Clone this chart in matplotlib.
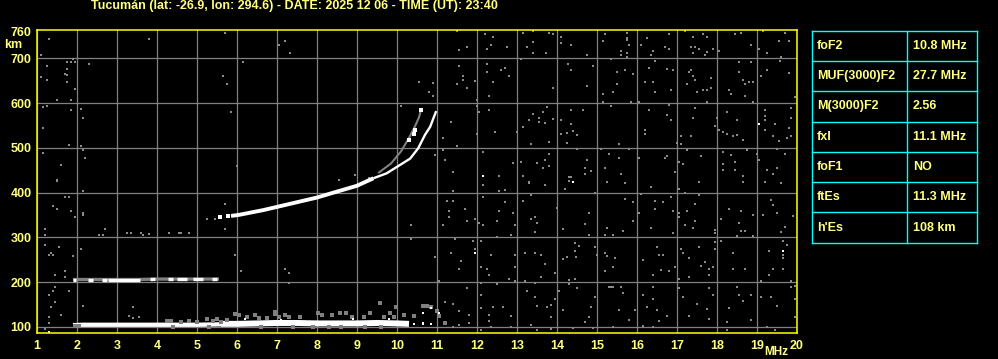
import numpy as np
import matplotlib.pyplot as plt

plt.rcParams['font.family'] = ['Liberation Sans', 'DejaVu Sans']

title = "Tucumán (lat: -26.9, lon: 294.6) - DATE: 2025 12 06 - TIME (UT): 23:40"

freq_ticks = list(range(1, 21))
km_ticks = [100, 200, 300, 400, 500, 600, 700, 760]
km_grid = [100, 200, 300, 400, 500, 600, 700]

# scaled parameters table
table_params = ['foF2', 'MUF(3000)F2', 'M(3000)F2', 'fxI', 'foF1', 'ftEs', "h'Es"]
table_values = ['10.8 MHz', '27.7 MHz', '2.56', '11.1 MHz', 'NO', '11.3 MHz', '108 km']

# sporadic E trace (MHz, km)
es_low_freq = [1.9, 2.15, 3.0, 4.0, 5.0, 5.6]
es_low_km = [104, 105, 105, 105, 105, 106]
es_high_freq = [5.6, 6.0, 6.5, 7.0, 7.5, 8.0, 8.5, 9.0, 9.5, 10.0, 10.3]
es_high_km = [107, 107, 108, 109, 109, 108, 108, 108, 109, 108, 107]
es_white_bits = [(10.43, 107), (10.65, 107), (10.84, 107), (10.64, 132), (10.84, 142),
                 (11.04, 132), (10.64, 109), (6.2, 117), (7.1, 116), (8.9, 117), (9.8, 118)]
es_spread = [(4.25, 114), (4.35, 114), (4.6, 112), (4.8, 114), (5.0, 112), (5.25, 117),
             (5.4, 114), (5.5, 117), (5.6, 112), (5.75, 116), (5.95, 129), (6.05, 127),
             (6.25, 123), (6.45, 127), (6.55, 119), (6.75, 119), (6.95, 134), (6.95, 128),
             (7.05, 123), (7.2, 127), (7.3, 123), (7.575, 123), (8.025, 132), (8.125, 127),
             (8.375, 127), (8.575, 132), (8.725, 132), (8.875, 123), (9.175, 123),
             (9.325, 132), (9.575, 154), (9.675, 123), (9.825, 132), (9.975, 145),
             (9.925, 123), (10.175, 127), (10.425, 125), (10.645, 147), (10.74, 147),
             (10.84, 145), (10.99, 136), (11.04, 125), (11.19, 109), (6.6, 101),
             (7.4, 100), (7.9, 101), (8.3, 100), (8.6, 101), (9.2, 100), (9.6, 101),
             (2.05, 103), (1.95, 103), (5.3, 101), (4.4, 101)]

# second hop E echo
hop2_freq = [1.9, 2.5, 3.0, 3.5, 4.0, 4.5, 5.0, 5.55]
hop2_km = [206, 206, 206, 206, 207, 207, 207, 207]
hop2_white_start = [1.91, 2.28, 2.62, 2.78, 3.83, 4.28, 4.49, 4.91, 5.37]
hop2_white_end = [1.975, 2.41, 2.74, 3.58, 3.95, 4.41, 4.74, 5.16, 5.49]

# F2 trace
f_low_freq = [5.85, 6.03, 6.66, 7.33, 8.0, 8.49, 8.99, 9.41]
f_low_km = [348, 350, 361, 375, 389, 402, 415, 432]
f_up_freq = [9.41, 9.74, 10.08, 10.33, 10.53, 10.7, 10.83, 10.91, 10.98]
f_up_km = [432, 443, 462, 476, 499, 529, 547, 566, 582]
f_start_bits = [(5.575, 345), (5.78, 348)]
f_branch_freq = [9.55, 9.85, 10.1, 10.3, 10.45, 10.55, 10.6]
f_branch_km = [445, 465, 492, 522, 548, 568, 585]
f_branch_white = [(10.31, 518), (10.45, 540), (10.59, 585), (10.42, 530)]

white_specks = [(12.14, 438), (19.05, 553), (14.40, 424), (19.65, 270), (11.94, 266),
                (1.30, 89)]

noise_echoes = [
    (1.30, 743), (1.10, 708), (3.80, 743), (5.70, 756), (7.05, 730), (7.20, 739),
    (7.33, 711), (1.25, 683), (1.75, 692), (1.85, 692), (1.95, 692), (1.90, 698),
    (1.75, 677), (1.70, 665), (1.75, 662), (1.10, 657), (1.25, 652), (1.75, 648),
    (1.95, 632), (2.30, 688), (6.15, 692), (5.65, 661), (5.75, 643), (1.50, 607),
    (1.85, 607), (1.15, 590), (1.25, 594), (1.85, 585), (2.10, 587), (2.15, 567),
    (5.85, 581), (1.15, 545), (1.80, 507), (2.10, 505), (2.15, 496), (2.20, 478),
    (1.15, 489), (1.60, 462), (1.50, 429), (6.00, 460),
    (11.49, 761), (11.54, 719), (11.74, 725), (12.19, 753), (12.39, 748), (12.34, 730),
    (12.24, 721), (12.74, 724), (13.14, 757), (13.39, 761), (13.39, 736), (13.24, 725),
    (13.39, 712), (13.09, 698), (11.54, 683), (11.64, 660), (11.64, 651), (11.49, 642),
    (11.74, 633), (11.94, 650), (12.24, 687), (12.24, 669), (12.59, 674), (12.69, 678),
    (12.79, 660), (12.39, 647), (12.29, 616), (10.54, 647), (10.89, 645), (10.79, 625),
    (10.89, 616), (11.99, 607), (11.99, 593), (12.04, 580), (12.29, 584), (10.09, 593),
    (11.34, 558), (11.14, 522), (11.99, 531), (12.44, 535), (12.99, 535), (13.14, 546),
    (13.29, 562), (13.39, 575), (13.54, 566), (13.54, 558), (13.64, 580), (13.34, 508),
    (11.49, 505), (11.14, 496), (10.94, 485), (11.19, 473), (12.14, 491), (12.54, 438),
    (12.89, 465), (13.09, 469), (13.49, 467), (13.64, 456), (13.14, 438), (13.29, 424),
    (11.39, 447), (8.54, 429),
    (13.80, 757), (13.90, 753), (14.10, 748), (14.10, 735), (14.35, 730), (13.72, 712),
    (14.75, 708), (15.20, 753), (15.15, 739), (15.75, 757), (15.75, 741), (15.75, 745),
    (15.80, 730), (15.60, 717), (15.75, 712), (15.60, 708), (15.75, 703), (16.25, 746),
    (16.10, 730), (16.40, 717), (16.35, 708), (16.70, 726), (16.80, 753), (16.80, 721),
    (17.20, 761), (17.40, 748), (17.65, 753), (17.75, 748), (17.35, 726), (17.45, 726),
    (17.55, 721), (17.40, 712), (17.75, 714), (17.70, 708), (17.90, 721), (18.05, 717),
    (18.45, 753), (18.60, 757), (18.85, 730), (19.05, 721), (19.15, 761), (19.25, 712),
    (19.55, 739), (19.70, 757), (19.80, 739), (19.60, 702), (19.58, 693), (14.27, 686),
    (14.35, 674), (14.90, 683), (14.75, 639), (13.90, 633), (15.35, 699), (15.50, 669),
    (15.70, 674), (15.90, 665), (15.50, 642), (15.40, 625), (15.15, 620), (15.15, 602),
    (15.85, 602), (16.45, 694), (16.30, 678), (16.75, 677), (16.90, 674), (16.20, 647),
    (16.40, 647), (16.45, 625), (16.85, 629), (16.05, 602), (17.30, 669), (17.35, 674),
    (17.40, 660), (17.45, 651), (17.25, 642), (17.85, 656), (17.85, 633), (17.65, 629),
    (17.75, 629), (17.50, 625), (17.75, 602), (18.55, 691), (18.85, 691), (18.55, 669),
    (18.65, 651), (18.70, 642), (18.80, 647), (18.90, 647), (18.30, 629), (18.35, 620),
    (18.70, 616), (18.90, 602), (19.10, 660), (19.25, 674), (19.80, 668), (19.95, 614),
    (13.75, 592), (13.90, 565), (13.70, 556), (14.10, 562), (14.35, 584), (14.65, 584),
    (14.35, 553), (14.25, 534), (14.40, 537), (14.50, 529), (14.10, 531), (14.25, 511),
    (13.80, 513), (15.35, 593), (15.55, 508), (16.30, 584), (16.80, 595), (16.75, 574),
    (16.85, 562), (16.20, 540), (16.20, 531), (16.99, 511), (17.10, 508), (17.10, 526),
    (17.35, 526), (17.40, 567), (17.45, 589), (17.95, 549), (18.00, 567), (18.05, 540),
    (18.15, 535), (18.25, 531), (18.40, 526), (18.50, 529), (18.25, 580), (18.50, 562),
    (18.65, 517), (19.20, 584), (19.20, 571), (19.20, 562), (19.20, 540), (19.45, 553),
    (19.40, 526), (19.55, 516), (19.80, 544), (19.85, 566), (19.85, 589), (19.75, 522),
    (19.85, 526), (13.80, 486), (13.70, 473), (13.80, 459), (14.30, 434), (14.35, 434),
    (14.50, 498), (14.75, 473), (14.70, 455), (14.85, 449), (14.70, 441), (15.10, 498),
    (15.30, 486), (15.20, 455), (15.60, 441), (15.80, 498), (15.55, 477), (16.05, 477),
    (16.70, 477), (16.75, 482), (16.95, 446), (17.05, 468), (17.15, 464), (17.25, 495),
    (17.60, 482), (18.15, 491), (18.15, 464), (18.35, 485), (18.45, 468), (18.15, 450),
    (18.45, 450), (18.65, 437), (18.75, 495), (19.00, 486), (19.05, 473), (19.25, 450),
    (19.40, 441), (19.50, 455), (19.50, 498), (19.70, 486),
    (13.70, 418), (14.20, 409), (14.30, 425), (15.70, 422), (15.25, 424), (16.35, 413),
    (17.05, 409), (17.55, 424), (18.65, 424), (19.20, 424), (19.60, 422), (14.95, 400),
    (14.00, 366), (14.80, 355), (14.70, 330), (14.15, 319), (14.80, 306), (15.20, 306),
    (15.40, 306), (15.25, 321), (15.65, 315), (15.90, 378), (15.70, 386), (15.90, 337),
    (16.10, 397), (16.05, 355), (16.45, 382), (16.65, 378), (16.85, 391), (16.90, 360),
    (16.45, 364), (16.35, 321), (16.90, 310), (17.05, 355), (17.05, 346), (17.20, 400),
    (17.25, 360), (17.20, 328), (17.45, 337), (17.45, 375), (17.55, 395), (17.40, 321),
    (17.95, 316), (17.95, 310), (18.10, 342), (18.30, 364), (18.60, 360), (18.55, 333),
    (18.60, 315), (18.70, 315), (18.50, 303), (18.90, 351), (18.90, 303), (19.15, 351),
    (19.35, 383), (19.40, 373), (19.50, 355), (19.70, 324), (19.60, 311), (19.90, 348),
    (14.45, 288), (14.55, 281), (14.45, 269), (14.25, 257), (14.15, 252), (14.48, 256),
    (13.95, 221), (14.30, 205), (14.45, 208), (14.30, 195), (14.50, 186), (14.05, 181),
    (13.70, 241), (14.95, 279), (15.20, 266), (15.25, 258), (15.45, 253), (15.40, 235),
    (15.20, 226), (15.00, 260), (15.35, 190), (15.60, 190), (15.65, 177), (16.15, 250),
    (16.50, 279), (16.65, 261), (16.55, 261), (16.60, 227), (16.80, 226), (16.95, 235),
    (16.40, 217), (17.05, 208), (17.10, 275), (17.15, 266), (17.30, 253), (17.30, 212),
    (17.55, 279), (17.70, 244), (17.60, 236), (17.80, 230), (17.90, 235), (17.80, 217),
    (17.95, 275), (17.95, 290), (18.10, 293), (18.40, 266), (18.40, 230), (18.70, 230),
    (19.30, 270), (19.40, 230), (19.65, 230), (19.65, 253), (19.65, 293), (19.75, 284),
    (19.30, 217), (19.10, 203), (19.65, 261), (19.85, 203), (13.75, 145), (13.85, 150),
    (13.85, 123), (13.95, 163), (14.15, 138), (14.85, 145), (14.80, 123), (14.70, 111),
    (14.95, 168), (15.30, 190), (15.40, 190), (15.55, 137), (15.40, 101), (15.80, 116),
    (15.95, 137), (16.15, 172), (16.25, 145), (16.40, 190), (16.40, 163), (16.50, 137),
    (16.55, 114), (16.40, 101), (16.75, 125), (16.15, 102), (17.05, 186), (17.15, 168),
    (17.30, 125), (17.50, 151), (17.75, 141), (17.80, 186), (17.90, 172), (17.80, 117),
    (18.25, 111), (18.30, 142), (18.50, 190), (18.55, 172), (18.65, 159), (18.85, 172),
    (18.85, 116), (19.10, 168), (19.35, 168), (19.50, 147), (19.85, 190), (19.95, 191),
    (19.95, 163), (19.95, 123), (19.45, 93), (19.25, 101), (18.25, 93), (14.40, 98),
    (13.85, 95), (14.90, 98),
    (12.14, 418), (12.69, 406), (13.29, 422), (13.34, 394), (11.39, 404), (12.14, 391),
    (12.54, 404), (13.14, 382), (11.24, 382), (11.39, 382), (12.69, 378), (11.69, 364),
    (11.29, 360), (11.29, 346), (11.74, 337), (11.94, 342), (12.04, 333), (12.14, 328),
    (11.14, 328), (12.54, 360), (12.49, 337), (12.89, 355), (12.94, 328), (13.44, 346),
    (13.49, 333), (13.34, 342), (13.44, 311), (10.34, 328), (10.34, 297), (11.44, 297),
    (11.89, 293), (12.09, 293), (12.49, 302), (12.84, 306), (11.94, 275), (10.94, 257),
    (11.34, 266), (11.59, 248), (12.09, 235), (12.24, 230), (12.34, 261), (11.54, 230),
    (12.29, 217), (12.94, 235), (12.94, 261), (13.19, 266), (13.44, 266), (13.59, 261),
    (12.79, 208), (12.94, 203), (13.19, 203), (13.59, 212), (11.04, 203), (11.74, 186),
    (12.09, 199), (12.09, 172), (12.49, 195), (13.24, 181), (13.44, 199), (13.44, 168),
    (13.49, 147), (11.19, 156), (11.39, 151), (11.54, 136), (11.79, 127), (12.09, 142),
    (12.29, 127), (12.39, 144), (12.64, 145), (12.84, 125), (12.29, 114), (12.34, 101),
    (12.84, 101), (13.34, 105), (13.49, 93), (12.09, 93), (11.79, 109), (11.54, 105),
    (11.19, 109), (11.04, 125), (11.39, 101),
    (1.50, 425), (2.15, 404), (1.70, 391), (1.80, 391), (1.40, 369), (1.50, 364),
    (1.85, 360), (1.95, 346), (2.15, 355), (2.15, 351), (1.20, 319), (1.20, 306),
    (2.55, 306), (2.65, 306), (2.70, 319), (3.25, 309), (3.35, 310), (3.60, 310),
    (3.65, 306), (3.80, 308), (4.30, 310), (4.55, 309), (4.60, 310), (4.80, 310),
    (5.70, 375), (5.70, 319), (1.20, 284), (1.35, 266), (1.40, 261), (1.30, 261),
    (1.55, 279), (1.90, 258), (2.10, 275), (1.45, 217), (1.70, 226), (1.70, 212),
    (1.45, 190), (1.40, 181), (1.30, 172), (1.80, 181), (1.45, 156), (1.35, 144),
    (1.30, 123), (1.30, 110), (1.60, 127), (2.15, 147), (3.40, 145), (3.30, 125),
    (3.40, 120), (3.55, 122), (5.95, 261), (6.10, 226), (7.20, 230), (7.30, 221),
    (7.30, 199), (1.20, 96), (5.45, 342), (5.25, 342), (8.95, 439), (9.3, 432),
]

GRAY = '#808080'
TXT = '#ffff80'
FS = 9

fig = plt.figure(figsize=(9.98, 3.59), dpi=100, facecolor='black')
ax = fig.add_axes([37 / 998, 26 / 359, 760 / 998, 303 / 359], facecolor='black')
ax.set_xlim(1, 20)
ax.set_ylim(86.6, 763)

for f in freq_ticks:
    ax.axvline(f, color=GRAY, lw=0.9, zorder=1)
for h in km_grid:
    ax.axhline(h, color=GRAY, lw=0.9, zorder=1)

noise = np.array(noise_echoes)
ax.plot(noise[:, 0], noise[:, 1], 's', color='#8a8a8a', ms=1.8, mew=0, zorder=3)

# E layer echoes
ax.plot(es_low_freq, es_low_km, color='white', lw=3.1, solid_capstyle='butt', zorder=4)
ax.plot(es_high_freq, es_high_km, color='white', lw=4.3, solid_capstyle='butt', zorder=4)
spread = np.array(es_spread)
ax.plot(spread[:, 0], spread[:, 1], 's', color=GRAY, ms=2.4, mew=0, zorder=4.5)
bits = np.array(es_white_bits)
ax.plot(bits[:, 0], bits[:, 1], 's', color='white', ms=2.0, mew=0, zorder=4.6)

ax.plot(hop2_freq, hop2_km, color=GRAY, lw=2.4, solid_capstyle='butt', zorder=4)
ax.hlines(np.interp(hop2_white_start, hop2_freq, hop2_km), hop2_white_start, hop2_white_end,
          color='white', lw=2.4, zorder=5)

# F layer echoes
ax.plot(f_branch_freq, f_branch_km, color=GRAY, lw=1.5, zorder=4)
fb = np.array(f_branch_white)
ax.plot(fb[:, 0], fb[:, 1], 's', color='white', ms=2.2, mew=0, zorder=5)
ax.plot(f_low_freq, f_low_km, color='white', lw=2.8, solid_capstyle='butt', zorder=5)
ax.plot(f_up_freq, f_up_km, color='white', lw=1.7, solid_capstyle='butt', zorder=5)
fs = np.array(f_start_bits)
ax.plot(fs[:, 0], fs[:, 1], 's', color='white', ms=2.8, mew=0, zorder=5)

ws = np.array(white_specks)
ax.plot(ws[:, 0], ws[:, 1], 's', color='white', ms=1.8, mew=0, zorder=5)

for s in ax.spines.values():
    s.set_color('#ffff00')
    s.set_linewidth(1.1)
    s.set_zorder(6)

ax.set_xticks(freq_ticks)
ax.set_yticks(km_ticks)
ax.tick_params(length=0, labelcolor=TXT, labelsize=FS)
ax.tick_params(axis='x', pad=5)
ax.tick_params(axis='y', pad=4)
for lab in ax.get_xticklabels() + ax.get_yticklabels():
    lab.set_fontweight('bold')

fig.text(91 / 998, 1 - 6 / 359, title, color=TXT, fontsize=FS, fontweight='bold',
         ha='left', va='center')
fig.text(22 / 998, 1 - 44.5 / 359, 'km', color=TXT, fontsize=FS, fontweight='bold',
         ha='right', va='center')
fig.text(776 / 998, 1 - 352 / 359, 'MHz', color=TXT, fontsize=8.5, fontweight='bold',
         ha='center', va='center')

# parameter table
tax = fig.add_axes([812 / 998, 1 - 242.7 / 359, 165 / 998, 212 / 359])
tax.set_xlim(0, 1)
tax.set_ylim(len(table_params), 0)
tax.axis('off')
n = len(table_params)
for i in range(n + 1):
    tax.plot([0, 1], [i, i], color='#00ffff', lw=1.0, clip_on=False)
for x in (0, 0.576, 1):
    tax.plot([x, x], [0, n], color='#00ffff', lw=1.0, clip_on=False)
for i, (p, v) in enumerate(zip(table_params, table_values)):
    tax.text(0.03, i + 0.5, p, color=TXT, fontsize=FS, fontweight='bold', va='center')
    tax.text(0.612, i + 0.5, v, color=TXT, fontsize=FS, fontweight='bold', va='center')

fig.savefig('out.png', dpi=100, facecolor='black')
